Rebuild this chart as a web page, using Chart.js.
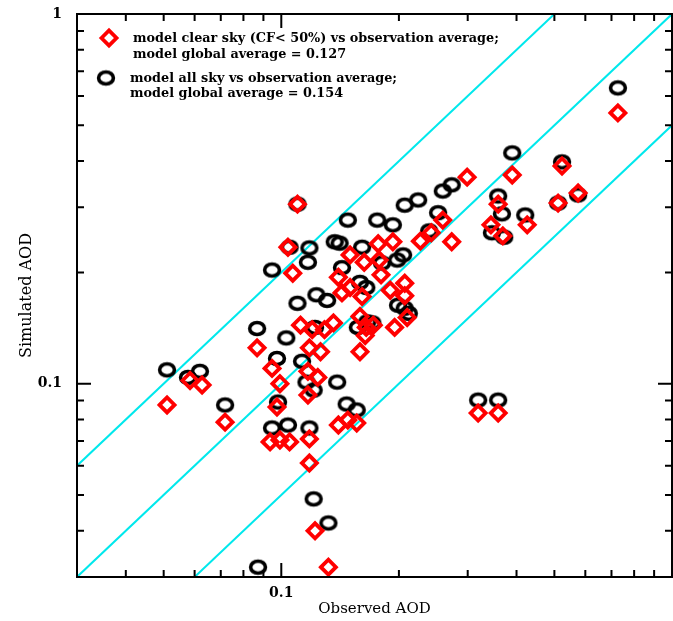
<!DOCTYPE html>
<html>
<head>
<meta charset="utf-8">
<script src="https://cdn.jsdelivr.net/npm/chart.js@4.4.0/dist/chart.umd.min.js"></script>
<style>
  html, body { margin: 0; padding: 0; background: #fff; }
  canvas { display: block; }
</style>
</head>
<body>
<canvas id="myChart" width="673" height="621"></canvas>
<script>
// model clear sky (CF < 50%) vs observation average -- red diamonds
var clearObs = [0.051, 0.0584, 0.0627, 0.0718, 0.0867, 0.0947, 0.0992, 0.0975, 0.0936, 0.0992,
    0.105, 0.118, 0.118, 0.122, 0.132, 0.110, 0.104, 0.107, 0.150, 0.163,
    0.177, 0.193, 0.178, 0.180, 0.190, 0.207, 0.207, 0.140, 0.143, 0.150,
    0.161, 0.112, 0.120, 0.129, 0.136, 0.159, 0.165, 0.164, 0.159, 0.118,
    0.126, 0.117, 0.124, 0.117, 0.140, 0.148, 0.156, 0.172, 0.195, 0.210,
    0.259, 0.273, 0.227, 0.242, 0.299, 0.359, 0.344, 0.369, 0.426, 0.390,
    0.523, 0.575, 0.511, 0.727, 0.319, 0.359];
var clearSim = [0.0876, 0.102, 0.0992, 0.0787, 0.125, 0.110, 0.100, 0.0865, 0.0696, 0.0704,
    0.0696, 0.0709, 0.0610, 0.0400, 0.0319, 0.306, 0.234, 0.199, 0.223, 0.213,
    0.239, 0.242, 0.216, 0.197, 0.179, 0.187, 0.173, 0.194, 0.176, 0.182,
    0.172, 0.144, 0.140, 0.140, 0.146, 0.152, 0.142, 0.135, 0.122, 0.125,
    0.122, 0.108, 0.104, 0.0932, 0.0773, 0.0797, 0.0783, 0.144, 0.142, 0.151,
    0.277, 0.242, 0.243, 0.256, 0.362, 0.306, 0.269, 0.251, 0.269, 0.367,
    0.388, 0.328, 0.308, 0.540, 0.0833, 0.0833];

// model all sky vs observation average -- black circles
var allObs = [0.051, 0.0619, 0.0577, 0.0718, 0.0867, 0.103, 0.0975, 0.110, 0.113, 0.0981,
    0.0947, 0.104, 0.118, 0.121, 0.132, 0.0872, 0.110, 0.148, 0.176, 0.193,
    0.207, 0.137, 0.141, 0.161, 0.105, 0.118, 0.117, 0.0947, 0.143, 0.159,
    0.165, 0.181, 0.198, 0.205, 0.123, 0.131, 0.199, 0.207, 0.212, 0.166,
    0.157, 0.171, 0.139, 0.147, 0.156, 0.319, 0.359, 0.727, 0.390, 0.523,
    0.575, 0.511, 0.359, 0.367, 0.421, 0.346, 0.372, 0.273, 0.259, 0.224,
    0.252, 0.239, 0.116, 0.121, 0.122];
var allSim = [0.109, 0.108, 0.104, 0.0876, 0.141, 0.133, 0.117, 0.165, 0.115, 0.0892,
    0.0759, 0.0773, 0.0759, 0.0488, 0.0420, 0.0319, 0.306, 0.277, 0.277, 0.269,
    0.304, 0.242, 0.240, 0.234, 0.234, 0.233, 0.213, 0.203, 0.206, 0.188,
    0.182, 0.212, 0.216, 0.223, 0.174, 0.168, 0.163, 0.160, 0.155, 0.147,
    0.142, 0.146, 0.101, 0.0881, 0.0849, 0.0903, 0.0903, 0.631, 0.421, 0.398,
    0.324, 0.308, 0.322, 0.288, 0.286, 0.256, 0.249, 0.345, 0.332, 0.314,
    0.290, 0.259, 0.101, 0.0961, 0.142];

// reference lines: y = 2x, y = x, y = x/2
var refLines = [
    { obs: [0.03, 0.5], sim: [0.06, 1] },
    { obs: [0.03, 1], sim: [0.03, 1] },
    { obs: [0.06, 1], sim: [0.03, 0.5] }
];

var axisMin = 0.03, axisMax = 1;
var labelTicks = [0.1, 1];
var markTicks = [0.04, 0.05, 0.06, 0.07, 0.08, 0.09, 0.1, 0.2, 0.3, 0.4, 0.5, 0.6, 0.7, 0.8, 0.9];

var legendText = [
    ['model clear sky (CF< 50%) vs observation average;', 'model global average = 0.127'],
    ['model all sky vs observation average;', 'model global average = 0.154']
];

function toPoints(xs, ys) {
    return xs.map(function (x, i) { return { x: x, y: ys[i] }; });
}

// open ellipse glyph for the all-sky points
function ringImage() {
    var c = document.createElement('canvas');
    c.width = 22; c.height = 19;
    var g = c.getContext('2d');
    g.strokeStyle = '#000';
    g.lineWidth = 3.6;
    g.beginPath();
    g.ellipse(11, 9.5, 7.4, 6, 0, 0, Math.PI * 2);
    g.stroke();
    return c;
}
var ring = ringImage();

var datasets = [{
    label: 'clear',
    data: toPoints(clearObs, clearSim),
    pointStyle: 'rectRot',
    pointRadius: 7.5,
    pointBorderWidth: 3.8,
    pointBorderColor: '#ff0000',
    pointBackgroundColor: 'rgba(0,0,0,0)',
    showLine: false,
    order: 1
}, {
    label: 'all',
    data: toPoints(allObs, allSim),
    pointStyle: ring,
    pointRadius: 8,
    showLine: false,
    order: 2
}];
refLines.forEach(function (l) {
    datasets.push({
        data: toPoints(l.obs, l.sim),
        showLine: true,
        borderColor: '#00e8ec',
        borderWidth: 2,
        pointRadius: 0,
        order: 3
    });
});

var frameTicks = {
    id: 'frameTicks',
    afterDatasetsDraw: function (chart) {
        var ctx = chart.ctx, a = chart.chartArea;
        var xs = chart.scales.x, ys = chart.scales.y;
        ctx.save();
        ctx.strokeStyle = '#000';
        ctx.lineWidth = 2;
        ctx.strokeRect(a.left, a.top, a.right - a.left, a.bottom - a.top);
        markTicks.forEach(function (v) {
            var len = v === 0.1 ? 14 : 7;
            var px = xs.getPixelForValue(v);
            var py = ys.getPixelForValue(v);
            ctx.beginPath();
            ctx.moveTo(px, a.bottom); ctx.lineTo(px, a.bottom - len);
            ctx.moveTo(px, a.top); ctx.lineTo(px, a.top + len);
            ctx.moveTo(a.left, py); ctx.lineTo(a.left + len, py);
            ctx.moveTo(a.right, py); ctx.lineTo(a.right - len, py);
            ctx.stroke();
        });
        ctx.restore();
    }
};

var legendBox = {
    id: 'legendBox',
    afterDraw: function (chart) {
        var ctx = chart.ctx, a = chart.chartArea;
        var x0 = a.left, y0 = a.top;
        ctx.save();
        // red diamond
        ctx.strokeStyle = '#ff0000';
        ctx.lineWidth = 3.8;
        ctx.beginPath();
        ctx.moveTo(x0 + 32 - 7.5, y0 + 24);
        ctx.lineTo(x0 + 32, y0 + 24 - 7.5);
        ctx.lineTo(x0 + 32 + 7.5, y0 + 24);
        ctx.lineTo(x0 + 32, y0 + 24 + 7.5);
        ctx.closePath();
        ctx.stroke();
        // black ring
        ctx.drawImage(ring, x0 + 29 - 11, y0 + 64 - 9.5);

        ctx.fillStyle = '#000';
        ctx.font = 'bold 12.8px "DejaVu Serif"';
        ctx.textBaseline = 'alphabetic';
        ctx.fillText(legendText[0][0], x0 + 56, y0 + 28);
        ctx.fillText(legendText[0][1], x0 + 56, y0 + 44);
        ctx.fillText(legendText[1][0], x0 + 53, y0 + 68);
        ctx.fillText(legendText[1][1], x0 + 53, y0 + 83);
        ctx.restore();
    }
};

function noPad(s) {
    s.paddingTop = 0; s.paddingBottom = 0; s.paddingLeft = 0; s.paddingRight = 0;
}

var tickFont = { family: 'DejaVu Serif', size: 14, weight: 'bold' };

new Chart(document.getElementById('myChart'), {
    type: 'scatter',
    data: { datasets: datasets },
    options: {
        responsive: false,
        animation: false,
        layout: { autoPadding: false, padding: { top: 14, right: 1, left: 0, bottom: 0 } },
        plugins: { legend: { display: false }, tooltip: { enabled: false } },
        scales: {
            x: {
                type: 'logarithmic',
                min: axisMin, max: axisMax,
                afterBuildTicks: function (s) { s.ticks = [{ value: labelTicks[0] }]; },
                afterFit: function (s) { s.height = 44; noPad(s); },
                grid: { display: false, drawTicks: false },
                border: { display: false },
                ticks: {
                    color: '#000', font: tickFont, padding: 8, maxRotation: 0,
                    callback: function (v) { return String(v); }
                },
                title: { display: true, text: 'Observed AOD', color: '#000',
                    font: { family: 'DejaVu Serif', size: 15 }, padding: { top: 0, bottom: 3 } }
            },
            y: {
                type: 'logarithmic',
                min: axisMin, max: axisMax,
                afterBuildTicks: function (s) { s.ticks = labelTicks.map(function (v) { return { value: v }; }); },
                afterFit: function (s) { s.width = 77; noPad(s); },
                grid: { display: false, drawTicks: false },
                border: { display: false },
                ticks: {
                    color: '#000', font: tickFont, padding: 15,
                    callback: function (v) { return String(v); }
                },
                title: { display: true, text: 'Simulated AOD', color: '#000',
                    font: { family: 'DejaVu Serif', size: 16 }, padding: { top: 17, bottom: 0 } }
            }
        }
    },
    plugins: [frameTicks, legendBox]
});
</script>
</body>
</html>
